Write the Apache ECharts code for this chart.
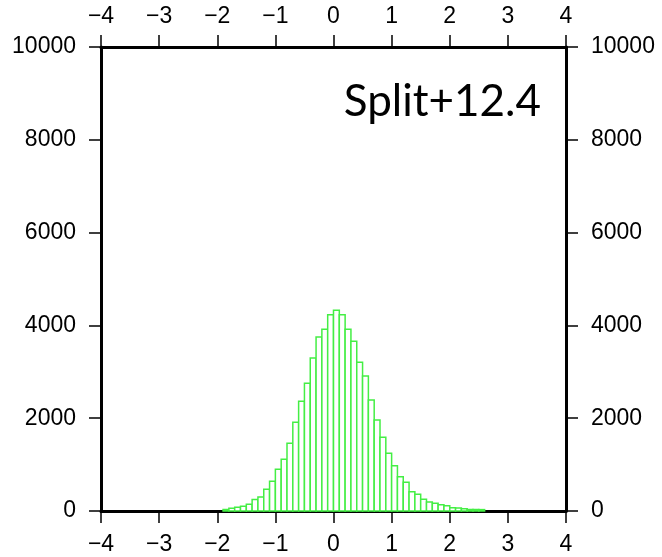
<!DOCTYPE html>
<html>
<head>
<meta charset="utf-8">
<script src="https://cdn.jsdelivr.net/npm/echarts@6/dist/echarts.min.js"></script>
<style>html,body{margin:0;padding:0;background:#fff;}#c{width:662px;height:557px;}</style>
</head>
<body>
<div id="c"></div>
<script>
const binStarts = [-1.9,-1.8,-1.7,-1.6,-1.5,-1.4,-1.3,-1.2,-1.1,-1.0,-0.9,-0.8,-0.7,-0.6,-0.5,-0.4,-0.3,-0.2,-0.1,0.0,0.1,0.2,0.3,0.4,0.5,0.6,0.7,0.8,0.9,1.0,1.1,1.2,1.3,1.4,1.5,1.6,1.7,1.8,1.9,2.0,2.1,2.2,2.3,2.4,2.5];
const counts = [35,58,80,100,148,250,300,470,643,898,1114,1459,1911,2364,2752,3297,3750,3916,4231,4325,4231,3916,3657,3205,2909,2392,1961,1588,1243,977,740,618,417,359,252,194,166,136,114,70,65,50,35,35,30];
const binWidth = 0.1;
const xTicks = [-4,-3,-2,-1,0,1,2,3,4];
const yTicks = [0,2000,4000,6000,8000,10000];
const title = 'Split+12.4';

const font = "'Liberation Sans', Helvetica, Arial, sans-serif";
const chart = echarts.init(document.getElementById('c'), null, {renderer: 'canvas'});
const fmtX = v => String(v).replace('-', '\u2212');
const fmtY = v => String(v);
const axisLine = {show: true, onZero: false, lineStyle: {color: '#000', width: 3}};
const axisTick = {show: true, inside: false, length: 12, lineStyle: {color: '#000', width: 1.5}};
const data = binStarts.map((s, i) => [s, counts[i]]);

chart.setOption({
  animation: false,
  backgroundColor: '#fff',
  grid: {left: 101, right: 96, top: 47, bottom: 46, containLabel: false},
  title: {
    text: title, right: 121, top: 80, padding: 0,
    textStyle: {fontFamily: "Lato, 'Open Sans', sans-serif", fontSize: 44, fontWeight: 'normal', color: '#000'}
  },
  xAxis: [
    {type: 'value', position: 'bottom', min: xTicks[0], max: xTicks[xTicks.length-1], interval: 1,
     axisLine, axisTick, splitLine: {show: false},
     axisLabel: {margin: 22, fontSize: 23, color: '#000', fontFamily: font, formatter: fmtX}},
    {type: 'value', position: 'top', min: xTicks[0], max: xTicks[xTicks.length-1], interval: 1,
     axisLine, axisTick, splitLine: {show: false},
     axisLabel: {margin: 19, fontSize: 23, color: '#000', fontFamily: font, formatter: fmtX}}
  ],
  yAxis: [
    {type: 'value', position: 'left', min: yTicks[0], max: yTicks[yTicks.length-1], interval: 2000,
     axisLine, axisTick, splitLine: {show: false},
     axisLabel: {margin: 25, fontSize: 23, color: '#000', fontFamily: font, formatter: fmtY}},
    {type: 'value', position: 'right', min: yTicks[0], max: yTicks[yTicks.length-1], interval: 2000,
     axisLine, axisTick, splitLine: {show: false},
     axisLabel: {margin: 25, fontSize: 23, color: '#000', fontFamily: font, formatter: fmtY}}
  ],
  series: [{
    type: 'custom',
    xAxisIndex: 0, yAxisIndex: 0,
    data: data,
    renderItem: function (params, api) {
      const x0 = api.value(0), c = api.value(1);
      const p0 = api.coord([x0, c]);
      const p1 = api.coord([x0 + binWidth, 0]);
      return {
        type: 'rect',
        shape: {x: p0[0], y: p0[1], width: p1[0] - p0[0], height: p1[1] - p0[1]},
        style: {fill: '#fff', stroke: '#44ee44', lineWidth: 1.5}
      };
    }
  }]
});
</script>
</body>
</html>
